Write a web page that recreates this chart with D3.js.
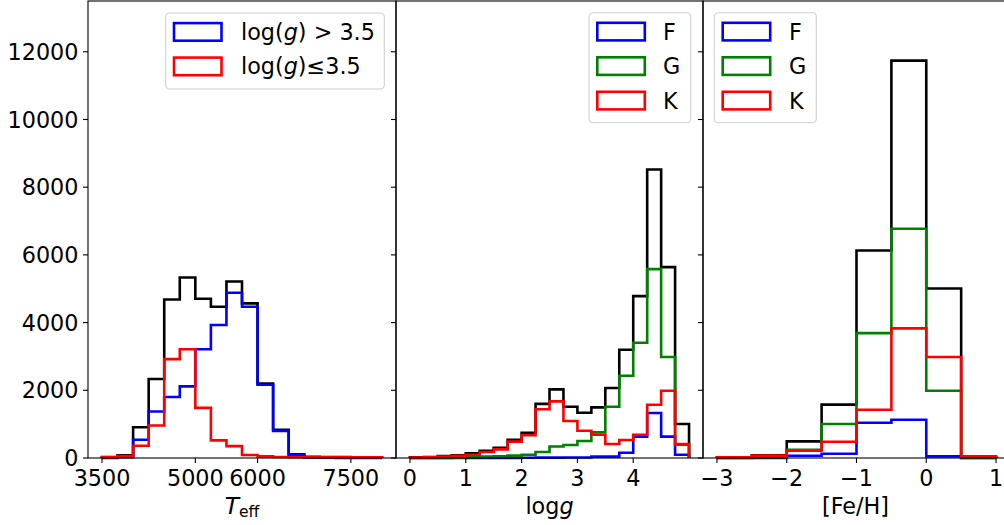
<!DOCTYPE html>
<html><head><meta charset="utf-8">
<script src="https://d3js.org/d3.v7.min.js"></script>
<style>
body{margin:0;background:#fff;}
text{font-family:"DejaVu Sans",sans-serif;fill:#000;}
</style></head>
<body><svg id="c" width="1004" height="525"></svg>
<script>
// ---------- data ----------
const teffEdges = [3500,3750,4000,4250,4500,4750,5000,5250,5500,5750,6000,6250,6500,6750,7000,7250,7500,7750,8000];
const teffAll   = [30,80,910,2332,4684,5331,4704,4469,5214,4567,2200,830,110,35,25,25,22,22];
const teffDwarf = [5,20,540,1372,1803,2117,3214,3930,4880,4469,2166,800,97,15,8,5,3,2];
const teffGiant = [20,60,360,960,2920,3214,1480,520,350,90,47,30,20,20,20,20,20,20];

const loggEdges = [0,0.25,0.5,0.75,1,1.25,1.5,1.75,2,2.25,2.5,2.75,3,3.25,3.5,3.75,4,4.25,4.5,4.75,5];
const loggAll = [20,30,55,80,140,215,305,540,748,1600,2027,1515,1338,1496,2066,3198,4782,8521,5638,1003];
const loggF   = [0,0,0,0,0,2,3,5,8,10,12,15,15,40,40,157,630,1328,630,98];
const loggG   = [0,2,5,10,20,40,50,69,98,177,340,384,500,758,1515,2430,3405,5580,2982,394];
const loggK   = [10,20,40,65,98,177,256,483,670,1440,1673,1092,807,689,413,531,689,1574,1988,413];

const fehEdges = [-3,-2.5,-2,-1.5,-1,-0.5,0,0.5,1];
const fehAll = [20,80,491,1576,6130,11739,5009,30];
const fehF   = [0,3,68,127,1040,1132,49,2];
const fehG   = [0,15,245,1005,3690,6770,1988,5];
const fehK   = [20,70,216,482,1427,3828,2982,49];

const yTicks = [0,2000,4000,6000,8000,10000,12000];
const teffTicks = [3500,5000,6000,7500];
const loggTicks = [0,1,2,3,4];
const fehTicks = [-3,-2,-1,0,1];

// ---------- layout ----------
const svg = d3.select("#c");
const FS = 22.3;
const yTop = 1, yBot = 458;
const y = d3.scaleLinear().domain([0,13500]).range([yBot,yTop]);

const panels = [
  {x: d3.scaleLinear().domain([3275,8225]).range([88,396]), ticks: teffTicks, fmt: d=>String(d),
   edges: teffEdges, series:[[teffAll,"black"],[teffDwarf,"blue"],[teffGiant,"red"]]},
  {x: d3.scaleLinear().domain([-0.25,5.25]).range([396,703]), ticks: loggTicks, fmt: d=>String(d),
   edges: loggEdges, series:[[loggAll,"black"],[loggF,"blue"],[loggG,"green"],[loggK,"red"]]},
  {x: d3.scaleLinear().domain([-3.2,1.2]).range([703,1010]), ticks: fehTicks, fmt: d=>(d<0?"\u2212"+Math.abs(d):String(d)),
   edges: fehEdges, series:[[fehAll,"black"],[fehF,"blue"],[fehG,"green"],[fehK,"red"]]}
];

const line = d3.line();
function stepPoints(edges, vals, x){
  const pts = [[x(edges[0]), y(0)]];
  vals.forEach((v,i)=>{ pts.push([x(edges[i]), y(v)]); pts.push([x(edges[i+1]), y(v)]); });
  pts.push([x(edges[edges.length-1]), y(0)]);
  return pts;
}

panels.forEach((p,pi)=>{
  const g = svg.append("g");
  p.series.forEach(([vals,col])=>{
    g.append("path").attr("d", line(stepPoints(p.edges, vals, p.x)))
      .attr("fill","none").attr("stroke",col).attr("stroke-width",2.6)
      .attr("stroke-linejoin","miter");
  });
  const [x0,x1] = p.x.range();
  // x ticks
  p.ticks.forEach(t=>{
    const xx = p.x(t);
    g.append("line").attr("x1",xx).attr("x2",xx).attr("y1",yBot).attr("y2",yBot+5)
      .attr("stroke","#000").attr("stroke-width",1.1);
    g.append("text").attr("x",xx).attr("y",486).attr("text-anchor","middle")
      .attr("font-size",FS).text(p.fmt(t));
  });
  // y ticks
  yTicks.forEach(t=>{
    const yy = y(t);
    g.append("line").attr("x1",x0-5).attr("x2",x0).attr("y1",yy).attr("y2",yy)
      .attr("stroke","#000").attr("stroke-width",1.1);
    if(pi===0){
      g.append("text").attr("x",x0-9.5).attr("y",yy).attr("dy","0.36em").attr("text-anchor","end")
        .attr("font-size",FS).text(String(t));
    }
  });
  // spines
  g.append("rect").attr("x",x0).attr("y",yTop).attr("width",x1-x0).attr("height",yBot-yTop)
    .attr("fill","none").attr("stroke","#000").attr("stroke-width",1.1);
});

// axis labels
const lab1 = svg.append("text").attr("x",(88+396)/2).attr("y",514)
  .attr("text-anchor","middle").attr("font-size",FS);
lab1.append("tspan").attr("font-style","italic").attr("font-size",FS*1.05).text("T");
lab1.append("tspan").attr("font-size",FS*0.7).attr("dy",3).text("eff");

const lab2 = svg.append("text").attr("x",(396+703)/2).attr("y",514).attr("text-anchor","middle").attr("font-size",FS);
lab2.append("tspan").text("log");
lab2.append("tspan").attr("font-style","italic").text("g");

svg.append("text").attr("x",(703+1010)/2-1).attr("y",514).attr("text-anchor","middle").attr("font-size",FS).text("[Fe/H]");

// legends
function legend(bx, by, bw, bh, patchX, textX, items){
  const g = svg.append("g");
  g.append("rect").attr("x",bx).attr("y",by).attr("width",bw).attr("height",bh).attr("rx",4)
    .attr("fill","#fff").attr("fill-opacity",0.8).attr("stroke","#d0d0d0").attr("stroke-width",1.1);
  items.forEach((it,i)=>{
    const cy = by + 18.9 + i*34.5;
    g.append("rect").attr("x",patchX).attr("y",cy-8.8).attr("width",47.5).attr("height",17.6)
      .attr("fill","none").attr("stroke",it.color).attr("stroke-width",2.6);
    const t = g.append("text").attr("x",textX).attr("y",cy).attr("dy","0.36em").attr("font-size",FS);
    it.parts.forEach(([s,ital])=>{ const ts=t.append("tspan").text(s); if(ital) ts.attr("font-style","italic"); });
  });
}
legend(165.7,13,218.6,76,174,241,[
  {color:"blue",parts:[["log(",false],["g",true],[") > 3.5",false]]},
  {color:"red",parts:[["log(",false],["g",true],[")\u22643.5",false]]}
]);
legend(589,12.7,101.7,110,597.3,663,[
  {color:"blue",parts:[["F",false]]},{color:"green",parts:[["G",false]]},{color:"red",parts:[["K",false]]}
]);
legend(714.3,12.7,102,110,722.7,789,[
  {color:"blue",parts:[["F",false]]},{color:"green",parts:[["G",false]]},{color:"red",parts:[["K",false]]}
]);
</script></body></html>
